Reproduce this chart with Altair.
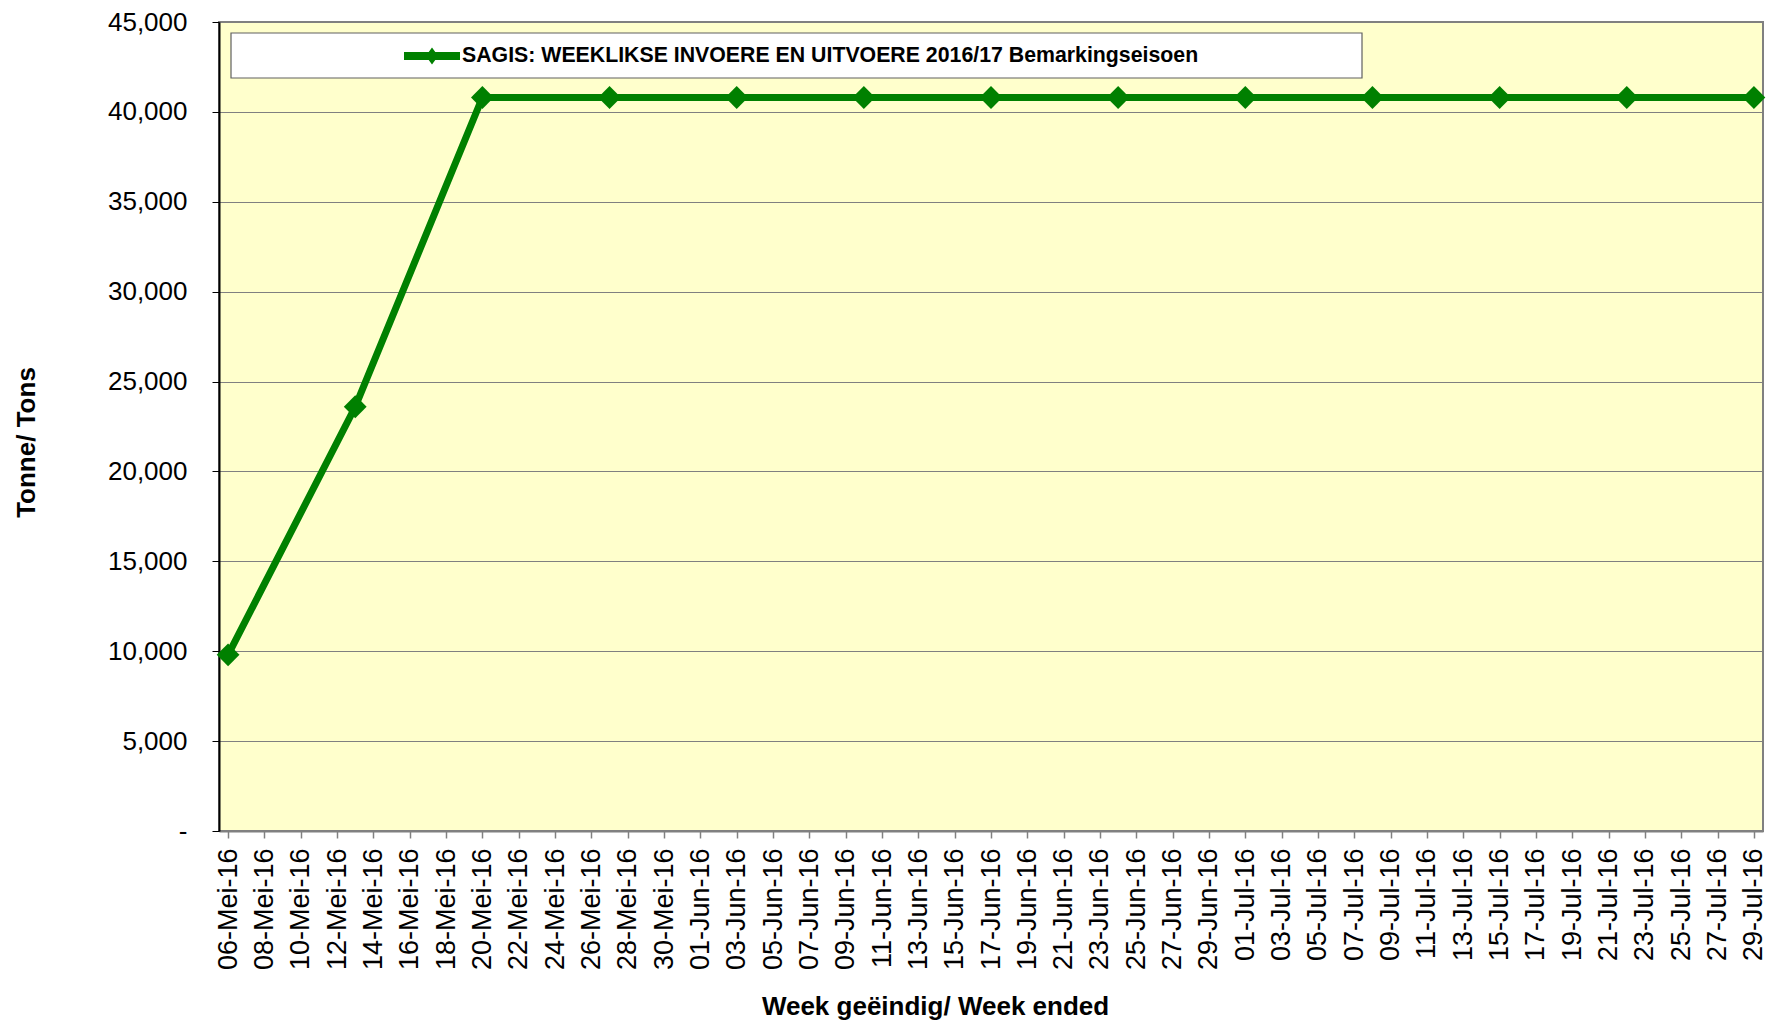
import json
import altair as alt
import pandas as pd

# ---- data ----
series_name = "SAGIS: WEEKLIKSE INVOERE EN UITVOERE 2016/17 Bemarkingseisoen"
week_dates = ["2016-05-06", "2016-05-13", "2016-05-20", "2016-05-27", "2016-06-03",
              "2016-06-10", "2016-06-17", "2016-06-24", "2016-07-01", "2016-07-08",
              "2016-07-15", "2016-07-22", "2016-07-29"]
tonnes = [9800, 23600, 40800, 40800, 40800, 40800, 40800, 40800, 40800, 40800,
          40800, 40800, 40800]

tick_labels = ["06-Mei-16", "08-Mei-16", "10-Mei-16", "12-Mei-16", "14-Mei-16", "16-Mei-16",
               "18-Mei-16", "20-Mei-16", "22-Mei-16", "24-Mei-16", "26-Mei-16", "28-Mei-16",
               "30-Mei-16", "01-Jun-16", "03-Jun-16", "05-Jun-16", "07-Jun-16", "09-Jun-16",
               "11-Jun-16", "13-Jun-16", "15-Jun-16", "17-Jun-16", "19-Jun-16", "21-Jun-16",
               "23-Jun-16", "25-Jun-16", "27-Jun-16", "29-Jun-16", "01-Jul-16", "03-Jul-16",
               "05-Jul-16", "07-Jul-16", "09-Jul-16", "11-Jul-16", "13-Jul-16", "15-Jul-16",
               "17-Jul-16", "19-Jul-16", "21-Jul-16", "23-Jul-16", "25-Jul-16", "27-Jul-16",
               "29-Jul-16"]
y_ticks = [0, 5000, 10000, 15000, 20000, 25000, 30000, 35000, 40000, 45000]

DAY = 86400000
t0 = int(pd.Timestamp("2016-05-06", tz="UTC").value // 10**6)
tick_values = [t0 + 2 * DAY * i for i in range(len(tick_labels))]
x_domain = [t0 - DAY // 2, t0 + 84 * DAY + DAY // 2]

FONT = "Liberation Sans"
GREEN = "#008000"

df = pd.DataFrame({"date": week_dates, "tonnes": tonnes, "series": series_name})

label_expr = f"{json.dumps(tick_labels)}[round((datum.value - {t0}) / {2 * DAY})]"

x_enc = alt.X(
    "date:T",
    scale=alt.Scale(type="utc", domain=x_domain),
    axis=alt.Axis(
        values=tick_values,
        labelExpr=label_expr,
        labelAngle=270,
        labelAlign="right",
        labelBaseline="middle",
        labelFont=FONT,
        labelFontSize=27,
        labelColor="#000000",
        labelPadding=10,
        labelOverlap=False,
        labelBound=False,
        labelFlush=False,
        tickSize=7,
        tickColor="#808080",
        tickWidth=1.5,
        domainColor="#808080",
        domainWidth=2,
        grid=False,
        title="Week geëindig/ Week ended",
        titleFont=FONT,
        titleFontSize=26,
        titleFontWeight="bold",
        titleColor="#000000",
        titleX=716,
        titleY=175,
        titleAlign="center",
        titleBaseline="middle",
    ),
)
y_enc = alt.Y(
    "tonnes:Q",
    scale=alt.Scale(domain=[0, 45000], nice=False, zero=True),
    axis=alt.Axis(
        values=y_ticks,
        labelExpr="datum.value == 0 ? '-' : format(datum.value, ',')",
        labelFont=FONT,
        labelFontSize=26,
        labelColor="#000000",
        labelPadding=25,
        tickSize=7,
        tickColor="#000000",
        domainColor="#000000",
        domainWidth=2,
        grid=True,
        gridColor="#808080",
        gridWidth=1,
        title="Tonne/ Tons",
        titleFont=FONT,
        titleFontSize=26,
        titleFontWeight="bold",
        titleColor="#000000",
        titleAngle=270,
        titleX=-193,
        titleY=420,
        titleAlign="center",
        titleBaseline="middle",
    ),
)

box = alt.Chart(pd.DataFrame({"k": [0]})).mark_rect(
    fill="#FFFFFF", stroke="#606060", strokeWidth=1.2
).encode(x=alt.value(12), x2=alt.value(1143), y=alt.value(11), y2=alt.value(56))

line = alt.Chart(df).mark_line(color=GREEN, strokeWidth=7).encode(x=x_enc, y=y_enc)

legend_path = "M-1,-0.14H1V0.14H-1Z M-0.22,0L0,-0.3L0.22,0L0,0.3Z"
points = alt.Chart(df).mark_point(shape="diamond", filled=True, size=520, opacity=1).encode(
    x=x_enc,
    y=y_enc,
    color=alt.Color(
        "series:N",
        scale=alt.Scale(range=[GREEN]),
        legend=alt.Legend(
            title=None,
            orient="none",
            legendX=185,
            legendY=6,
            symbolType=legend_path,
            symbolSize=3136,
            symbolStrokeWidth=0,
            symbolFillColor=GREEN,
            labelFont=FONT,
            labelFontSize=21.3,
            labelFontWeight="bold",
            labelColor="#000000",
            labelLimit=0,
            labelOffset=2,
            padding=0,
        ),
    ),
)

chart = (
    alt.layer(box, line, points)
    .properties(
        width=1544,
        height=809,
        autosize=alt.AutoSizeParams(type="none"),
        padding={"left": 211, "top": 14, "right": 7, "bottom": 189},
    )
    .configure_view(fill="#FFFFCC", stroke="#808080", strokeWidth=2)
)

chart.save("out.html", embed_options={"renderer": "svg", "actions": False})
